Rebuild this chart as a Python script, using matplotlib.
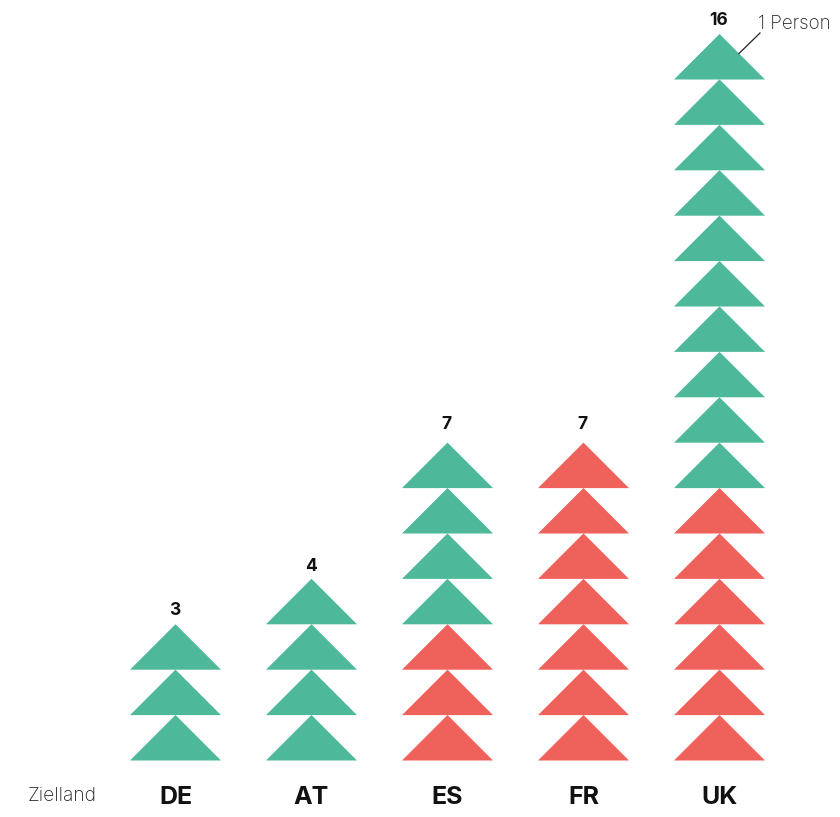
import matplotlib
matplotlib.use("Agg")
import matplotlib.pyplot as plt
from matplotlib.patches import Polygon

countries = ["DE", "AT", "ES", "FR", "UK"]
red_counts = [0, 0, 3, 7, 6]
green_counts = [3, 4, 4, 0, 10]
axis_label = "Zielland"
key_label = "1 Person"
GREEN = "#4DB99A"
RED = "#EF625C"

W, H = 840, 817
fig = plt.figure(figsize=(W / 100, H / 100), dpi=100)
# Axes in pixel units: x runs to the right, y runs downward.
ax = fig.add_axes([0, 0, 1, 1])
ax.set_xlim(0, W)
ax.set_ylim(H, 0)
ax.axis("off")

x0, dx = 175.5, 136
base_y, step = 760.5, 45.4
half_w, tri_h = 45.5, 45.5
font = "Inter"
# Distance from the tip of each stack to the baseline of its total.
total_gaps = [9, 8, 14, 14, 9]

for i, (name, reds, greens) in enumerate(zip(countries, red_counts, green_counts)):
    cx = x0 + i * dx
    colors = [RED] * reds + [GREEN] * greens
    for j, c in enumerate(colors):
        b = base_y - j * step
        ax.add_patch(Polygon([(cx - half_w, b), (cx + half_w, b), (cx, b - tri_h)],
                             closed=True, facecolor=c, edgecolor="none"))
    top = base_y - (len(colors) - 1) * step - tri_h
    ax.text(cx - 0.8, top - total_gaps[i], str(len(colors)), ha="center", va="baseline",
            fontsize=12.5, fontweight="bold", color="#111111", family=font)
    ax.text(cx, 804.5, name, ha="center", va="baseline",
            fontsize=18, fontweight="bold", color="#111111", family=font)

ax.text(28, 801, axis_label, ha="left", va="baseline", fontsize=13.8,
        fontweight="light", color="#222222", family=font)
ax.text(758, 28.5, key_label, ha="left", va="baseline", fontsize=13.5,
        fontweight="light", color="#222222", family=font)
ax.plot([739, 760], [53.5, 33], color="#222222", lw=0.9)

fig.savefig("out.png", dpi=100)
